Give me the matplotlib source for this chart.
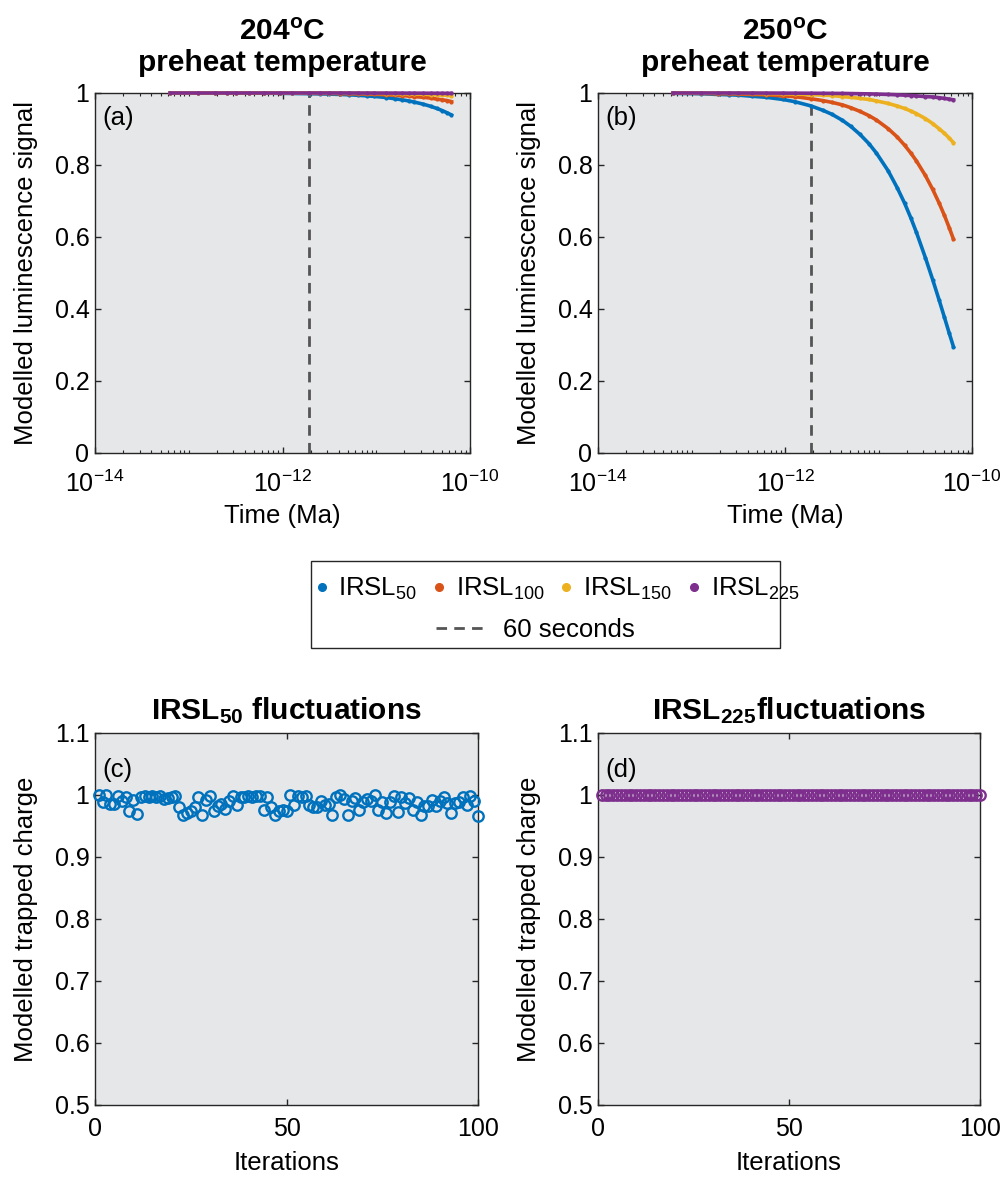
import matplotlib.pyplot as plt
import numpy as np
from matplotlib.lines import Line2D
from matplotlib.patches import Rectangle
from matplotlib.ticker import FuncFormatter, LogLocator, NullFormatter

plt.rcParams['font.family'] = ['Liberation Sans', 'DejaVu Sans']
plt.rcParams['mathtext.fontset'] = 'custom'
plt.rcParams['mathtext.rm'] = 'Liberation Sans'
plt.rcParams['mathtext.it'] = 'Liberation Sans:italic'
plt.rcParams['mathtext.bf'] = 'Liberation Sans:bold'

SEC_PER_MA = 3.15576e13

# model time steps (seconds)
time_s = [2, 4, 6, 8, 10, 14, 20, 30, 40, 60, 80, 100, 130, 160, 200, 250,
          300, 400, 500, 600, 700, 800, 1000, 1200, 1400, 1600, 1800, 2000]

# 204 C preheat
irsl50_204 = [0.9999, 0.9999, 0.9998, 0.9997, 0.9997, 0.9996, 0.9994, 0.9991, 0.9987, 0.9981,
              0.9975, 0.9969, 0.996, 0.995, 0.9937, 0.992, 0.9906, 0.9875, 0.984, 0.981,
              0.978, 0.975, 0.969, 0.963, 0.957, 0.951, 0.945, 0.939]
irsl100_204 = [0.9999, 0.9999, 0.9999, 0.9999, 0.9999, 0.9998, 0.9998, 0.9996, 0.9995, 0.9993,
               0.999, 0.9988, 0.9984, 0.998, 0.9976, 0.997, 0.9964, 0.9952, 0.994, 0.9928,
               0.9916, 0.990, 0.988, 0.986, 0.983, 0.981, 0.979, 0.976]
irsl150_204 = [1.0, 1.0, 1.0, 1.0, 1.0, 1.0, 1.0, 1.0, 0.9999, 0.9998,
               0.9997, 0.9997, 0.9995, 0.9994, 0.9993, 0.9991, 0.999, 0.9986, 0.9983, 0.9979,
               0.9976, 0.9972, 0.9965, 0.9958, 0.995, 0.9944, 0.9937, 0.993]
irsl225_204 = [1.0, 1.0, 1.0, 1.0, 1.0, 1.0, 1.0, 1.0, 1.0, 1.0,
               1.0, 1.0, 1.0, 1.0, 0.9999, 0.9999, 0.9998, 0.9998, 0.9997, 0.9997,
               0.9996, 0.9996, 0.9995, 0.9994, 0.9993, 0.9992, 0.9991, 0.999]

# 250 C preheat
irsl50_250 = [0.999, 0.998, 0.996, 0.995, 0.994, 0.991, 0.988, 0.982, 0.976, 0.964,
              0.952, 0.941, 0.924, 0.907, 0.885, 0.859, 0.833, 0.784, 0.737, 0.694,
              0.653, 0.614, 0.543, 0.481, 0.426, 0.377, 0.333, 0.295]
irsl100_250 = [0.9995, 0.999, 0.998, 0.998, 0.997, 0.996, 0.995, 0.992, 0.990, 0.984,
               0.979, 0.974, 0.967, 0.959, 0.949, 0.937, 0.925, 0.901, 0.878, 0.855,
               0.833, 0.812, 0.771, 0.732, 0.695, 0.660, 0.626, 0.594]
irsl150_250 = [1.0, 0.9997, 0.9996, 0.9994, 0.9993, 0.999, 0.9985, 0.998, 0.997, 0.9956,
               0.994, 0.993, 0.990, 0.988, 0.985, 0.982, 0.978, 0.971, 0.964, 0.957,
               0.950, 0.943, 0.929, 0.915, 0.901, 0.888, 0.875, 0.862]
irsl225_250 = [1.0, 1.0, 1.0, 1.0, 0.9999, 0.9999, 0.9998, 0.9997, 0.9996, 0.9994,
               0.9992, 0.999, 0.9988, 0.9985, 0.998, 0.9976, 0.997, 0.996, 0.995, 0.994,
               0.993, 0.992, 0.990, 0.989, 0.987, 0.985, 0.983, 0.981]

# fluctuation runs
iterations = list(range(1, 101))
irsl50_iter = [1.000, 0.989, 1.000, 0.985, 0.986, 0.999, 0.990, 0.997, 0.975, 0.992,
               0.970, 0.996, 0.998, 0.997, 0.999, 0.996, 0.998, 0.993, 0.995, 0.997,
               0.998, 0.980, 0.968, 0.971, 0.975, 0.980, 0.997, 0.968, 0.992, 0.998,
               0.975, 0.983, 0.986, 0.977, 0.991, 0.998, 0.984, 0.997, 0.996, 0.998,
               0.997, 0.999, 0.998, 0.976, 0.997, 0.980, 0.968, 0.975, 0.976, 0.975,
               1.000, 0.984, 0.998, 0.997, 0.998, 0.984, 0.980, 0.980, 0.990, 0.984,
               0.986, 0.968, 0.997, 1.000, 0.993, 0.968, 0.990, 0.995, 0.976, 0.989,
               0.994, 0.990, 1.000, 0.976, 0.989, 0.971, 0.989, 0.998, 0.973, 0.997,
               0.987, 0.995, 0.976, 0.989, 0.968, 0.982, 0.982, 0.992, 0.982, 0.990,
               0.997, 0.987, 0.971, 0.987, 0.989, 0.997, 0.984, 0.998, 0.990, 0.966]
irsl225_iter = [1.0, 1.0, 1.0, 1.0, 1.0, 1.0, 1.0, 1.0, 1.0, 1.0,
                1.0, 1.0, 1.0, 1.0, 1.0, 1.0, 1.0, 1.0, 1.0, 1.0,
                1.0, 1.0, 1.0, 1.0, 1.0, 1.0, 1.0, 1.0, 1.0, 1.0,
                1.0, 1.0, 1.0, 1.0, 1.0, 1.0, 1.0, 1.0, 1.0, 1.0,
                1.0, 1.0, 1.0, 1.0, 1.0, 1.0, 1.0, 1.0, 1.0, 1.0,
                1.0, 1.0, 1.0, 1.0, 1.0, 1.0, 1.0, 1.0, 1.0, 1.0,
                1.0, 1.0, 1.0, 1.0, 1.0, 1.0, 1.0, 1.0, 1.0, 1.0,
                1.0, 1.0, 1.0, 1.0, 1.0, 1.0, 1.0, 1.0, 1.0, 1.0,
                1.0, 1.0, 1.0, 1.0, 1.0, 1.0, 1.0, 1.0, 1.0, 1.0,
                1.0, 1.0, 1.0, 1.0, 1.0, 1.0, 1.0, 1.0, 1.0, 1.0]

labels = ['IRSL$_{50}$', 'IRSL$_{100}$', 'IRSL$_{150}$', 'IRSL$_{225}$']
colors = ['#0072BD', '#D95319', '#EDB120', '#7E2F8E']
cutoff_s = 60

BG = '#e6e7e9'
INK = '#262626'
DASH = (0, (3.8, 2.6))
TICK_FS = 18
LABEL_FS = 18.5
TITLE_FS = 21.5

time_ma = np.array(time_s) / SEC_PER_MA
cutoff_ma = cutoff_s / SEC_PER_MA

W, H = 1002, 1178
fig = plt.figure(figsize=(W / 100, H / 100), dpi=100)


def box(x0, y0, x1, y1):
    return [x0 / W, 1 - y1 / H, (x1 - x0) / W, (y1 - y0) / H]


def style(ax):
    ax.set_facecolor(BG)
    for s in ax.spines.values():
        s.set_color(INK)
        s.set_linewidth(1.0)
    ax.tick_params(which='both', direction='in', top=True, right=True,
                   color=INK, labelsize=TICK_FS, labelcolor='black')
    ax.tick_params(which='major', length=4, width=1.0, pad=4)
    ax.tick_params(which='minor', length=2.5, width=0.8)


ax_a = fig.add_axes(box(95, 93, 470, 453))
ax_b = fig.add_axes(box(598, 93, 972, 453))
ax_c = fig.add_axes(box(95, 733, 478, 1105))
ax_d = fig.add_axes(box(598, 733, 980, 1105))

panels = [
    (ax_a, [irsl50_204, irsl100_204, irsl150_204, irsl225_204], '204', '(a)'),
    (ax_b, [irsl50_250, irsl100_250, irsl150_250, irsl225_250], '250', '(b)'),
]
for ax, series, temp, tag in panels:
    style(ax)
    for y, c in zip(series, colors):
        ax.plot(time_ma, y, '-', color=c, lw=2.6, clip_on=False, zorder=3)
        ax.plot(time_ma, y, '.', color=c, ms=4, clip_on=False, zorder=3)
    ax.axvline(cutoff_ma, color='#555555', lw=2, ls=DASH, zorder=2)
    ax.set_xscale('log')
    ax.set_xlim(1e-14, 1e-10)
    ax.set_ylim(0, 1)
    ax.set_xticks([1e-14, 1e-12, 1e-10])
    ax.xaxis.set_minor_locator(LogLocator(base=10, subs=np.arange(1, 10), numticks=20))
    ax.xaxis.set_minor_formatter(NullFormatter())
    ax.set_yticks([0, 0.2, 0.4, 0.6, 0.8, 1])
    ax.yaxis.set_major_formatter(FuncFormatter(lambda v, p: f'{v:g}'))
    style(ax)
    ax.tick_params(axis='x', which='major', pad=13)
    ax.set_xlabel('Time (Ma)', fontsize=LABEL_FS, labelpad=5)
    ax.set_ylabel('Modelled luminescence signal', fontsize=LABEL_FS, labelpad=12)
    ax.set_title(temp + r'$^{\mathbf{o}}$C' + '\npreheat temperature',
                 fontsize=TITLE_FS, fontweight='bold', pad=16, linespacing=1.12)
    ax.text(0.02, 0.93, tag, transform=ax.transAxes, fontsize=LABEL_FS, va='center')

for ax, y, c, title, tag in [
    (ax_c, irsl50_iter, colors[0], r'IRSL$_{\mathbf{50}}$ fluctuations', '(c)'),
    (ax_d, irsl225_iter, colors[3], r'IRSL$_{\mathbf{225}}$fluctuations', '(d)'),
]:
    style(ax)
    ax.plot(iterations, y, 'o', mfc='none', mec=c, ms=7.5, mew=1.7, clip_on=False, zorder=3)
    ax.set_xlim(0, 100)
    ax.set_ylim(0.5, 1.1)
    ax.set_xticks([0, 50, 100])
    ax.set_yticks([0.5, 0.6, 0.7, 0.8, 0.9, 1.0, 1.1])
    ax.yaxis.set_major_formatter(FuncFormatter(lambda v, p: f'{v:g}'))
    ax.tick_params(axis='x', which='major', pad=9)
    ax.set_xlabel('Iterations', fontsize=LABEL_FS, labelpad=7)
    ax.set_ylabel('Modelled trapped charge', fontsize=LABEL_FS, labelpad=12)
    ax.set_title(title, fontsize=TITLE_FS, fontweight='bold', pad=10)
    ax.text(0.02, 0.9, tag, transform=ax.transAxes, fontsize=LABEL_FS, va='center')

# shared legend box between the two rows
fig.patches.append(Rectangle((311 / W, 1 - 648 / H), 469 / W, 87 / H,
                             transform=fig.transFigure, facecolor='white',
                             edgecolor=INK, lw=1.0, zorder=0))
dot_handles = [Line2D([], [], ls='none', marker='.', ms=11, color=c) for c in colors]
leg1 = fig.legend(dot_handles, labels, loc='center', ncol=4, frameon=False,
                  bbox_to_anchor=(556 / W, 1 - 589 / H), fontsize=LABEL_FS,
                  handlelength=0.7, handletextpad=0.3, columnspacing=0.5)
dash_handle = Line2D([], [], color='#555555', lw=2, ls=DASH)
leg2 = fig.legend([dash_handle], ['60 seconds'], loc='center', frameon=False,
                  bbox_to_anchor=(535 / W, 1 - 630 / H), fontsize=LABEL_FS,
                  handlelength=2.0, handletextpad=0.6)

fig.savefig('out.png', dpi=100, facecolor='white')
